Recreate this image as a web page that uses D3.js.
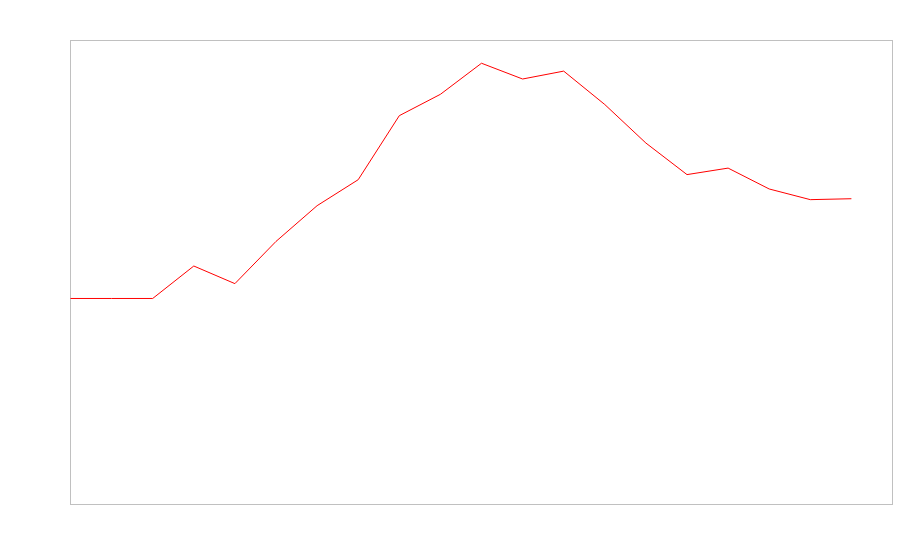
<!DOCTYPE html>
<html>
<head>
<meta charset="utf-8">
<script src="https://cdn.jsdelivr.net/npm/d3@7"></script>
<style>
  html, body { margin: 0; padding: 0; background: #fff; }
  svg { display: block; }
</style>
</head>
<body>
<svg id="chart" width="900" height="560"></svg>
<script>
// Data
const indices = [0, 1, 2, 3, 4, 5, 6, 7, 8, 9, 10, 11, 12, 13, 14, 15, 16, 17, 18, 19];
const values = [44.4, 44.4, 44.4, 51.4, 47.6, 56.7, 64.4, 70.0, 83.8, 88.4,
                95.1, 91.7, 93.4, 86.2, 77.9, 71.1, 72.5, 68.0, 65.7, 65.9];
const xDomain = [0, 20];
const yDomain = [0, 100];

const width = 900, height = 560;
const margin = { top: 40, right: 8, bottom: 56, left: 70 };
const innerW = width - margin.left - margin.right;
const innerH = height - margin.top - margin.bottom;

const svg = d3.select("#chart");
const g = svg.append("g").attr("transform", `translate(${margin.left + 0.5},${margin.top + 0.5})`);

const x = d3.scaleLinear().domain(xDomain).range([0, innerW]);
const y = d3.scaleLinear().domain(yDomain).range([innerH, 0]);

g.append("rect")
  .attr("x", 0).attr("y", 0)
  .attr("width", innerW).attr("height", innerH)
  .attr("fill", "none")
  .attr("stroke", "#c0c0c0")
  .attr("stroke-width", 1);

const data = indices.map((d, i) => ({ i: d, v: values[i] }));
const line = d3.line().x(d => x(d.i)).y(d => y(d.v));

g.append("path")
  .datum(data)
  .attr("fill", "none")
  .attr("stroke", "red")
  .attr("stroke-width", 1)
  .attr("d", line);
</script>
</body>
</html>
